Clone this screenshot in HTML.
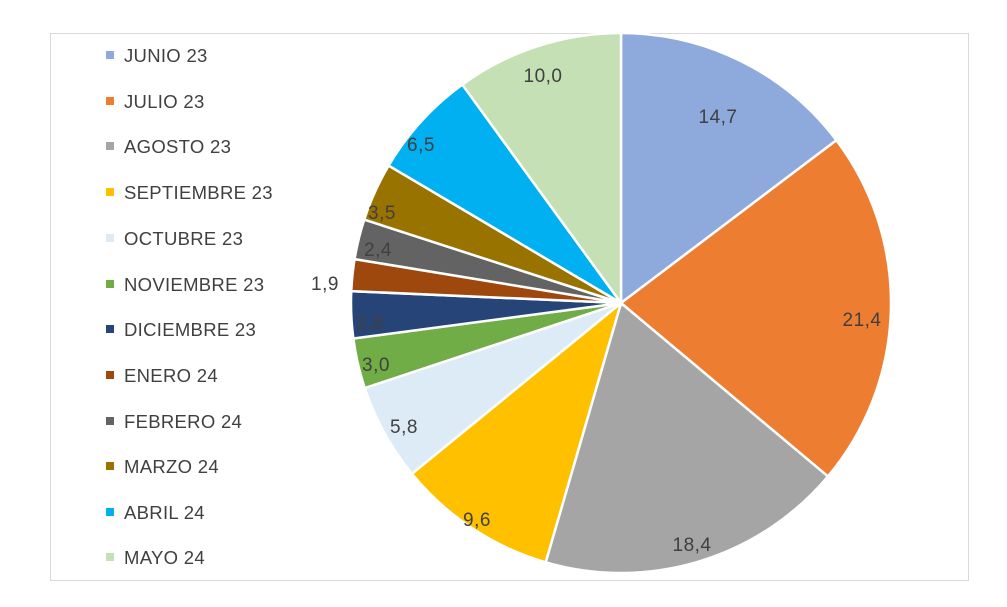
<!DOCTYPE html>
<html><head><meta charset="utf-8"><style>
body{margin:0;background:#fff;width:1007px;height:607px;overflow:hidden}
svg{position:absolute;left:0;top:0;font-family:"Liberation Sans",sans-serif}
</style></head><body>
<svg width="1007" height="607" viewBox="0 0 1007 607">
<rect x="50.5" y="33.5" width="918" height="547" fill="#fff" stroke="#d9d9d9"/>
<g id="pie"></g>
<g font-size="18.5" fill="#404040" letter-spacing="0.3">
<rect x="106" y="51" width="8" height="8" fill="#8EA9DB"/><text x="124" y="62">JUNIO 23</text>
<rect x="106" y="97" width="8" height="8" fill="#ED7D31"/><text x="124" y="108">JULIO 23</text>
<rect x="106" y="142" width="8" height="8" fill="#A5A5A5"/><text x="124" y="153">AGOSTO 23</text>
<rect x="106" y="188" width="8" height="8" fill="#FFC000"/><text x="124" y="199">SEPTIEMBRE 23</text>
<rect x="106" y="234" width="8" height="8" fill="#DDEBF7"/><text x="124" y="245">OCTUBRE 23</text>
<rect x="106" y="280" width="8" height="8" fill="#70AD47"/><text x="124" y="291">NOVIEMBRE 23</text>
<rect x="106" y="325" width="8" height="8" fill="#264478"/><text x="124" y="336">DICIEMBRE 23</text>
<rect x="106" y="371" width="8" height="8" fill="#9E480E"/><text x="124" y="382">ENERO 24</text>
<rect x="106" y="417" width="8" height="8" fill="#636363"/><text x="124" y="428">FEBRERO 24</text>
<rect x="106" y="462" width="8" height="8" fill="#997300"/><text x="124" y="473">MARZO 24</text>
<rect x="106" y="508" width="8" height="8" fill="#00B0F0"/><text x="124" y="519">ABRIL 24</text>
<rect x="106" y="553" width="8" height="8" fill="#C5E0B4"/><text x="124" y="564">MAYO 24</text>
</g>
<g font-size="19" fill="#404040" text-anchor="middle" letter-spacing="0.5">
<text x="718" y="123">14,7</text>
<text x="862" y="326">21,4</text>
<text x="692" y="551">18,4</text>
<text x="477" y="526">9,6</text>
<text x="404" y="433">5,8</text>
<text x="376" y="371">3,0</text>
<text x="370" y="329">2,8</text>
<text x="325" y="290">1,9</text>
<text x="378" y="256">2,4</text>
<text x="382" y="219">3,5</text>
<text x="421" y="151">6,5</text>
<text x="543" y="82">10,0</text>
</g>
</svg>
<script>
var v=[14.7,21.4,18.4,9.6,5.8,3.0,2.8,1.9,2.4,3.5,6.5,10.0];
var c=["#8EA9DB","#ED7D31","#A5A5A5","#FFC000","#DDEBF7","#70AD47","#264478","#9E480E","#636363","#997300","#00B0F0","#C5E0B4"];
var cx=621,cy=303,r=270,a=0,g=document.getElementById('pie'),s="";
for(var i=0;i<v.length;i++){var b=a+v[i]/100*2*Math.PI;
var x1=cx+r*Math.sin(a),y1=cy-r*Math.cos(a),x2=cx+r*Math.sin(b),y2=cy-r*Math.cos(b);
s+='<path d="M'+cx+' '+cy+'L'+x1+' '+y1+'A'+r+' '+r+' 0 '+(b-a>Math.PI?1:0)+' 1 '+x2+' '+y2+'Z" fill="'+c[i]+'" stroke="#fff" stroke-width="2.5"/>';a=b;}
g.innerHTML=s;
</script>
</body></html>
